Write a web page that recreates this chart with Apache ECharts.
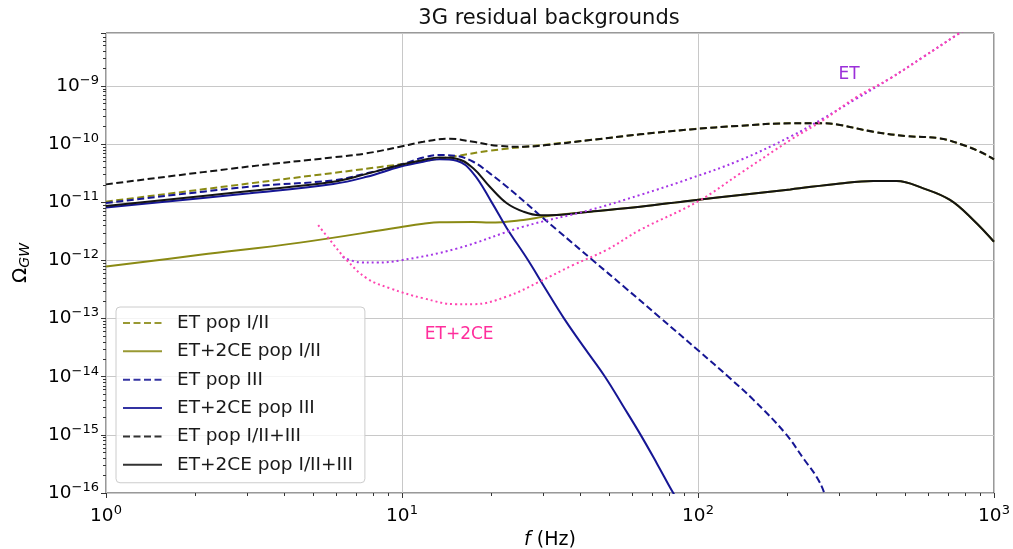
<!DOCTYPE html>
<html><head><meta charset="utf-8">
<script src="https://cdn.jsdelivr.net/npm/echarts@6/dist/echarts.min.js"></script>
<style>html,body{margin:0;padding:0;background:#fff}#c{width:1013px;height:549px}</style>
</head><body><div id="c"></div>
<script>
// ---- data (frequency in Hz, Omega_GW) ----
const fEtI   = [1, 3.06, 9.84, 15.3, 19.8, 29.2, 43.2, 63.7, 94, 139, 205, 265, 302, 391, 507, 658, 787, 897, 1000];
const omEtI  = [1.03e-11, 2.12e-11, 4.51e-11, 6.27e-11, 7.73e-11, 9.6e-11, 1.18e-10, 1.48e-10, 1.80e-10, 2.08e-10, 2.29e-10, 2.29e-10, 2.14e-10, 1.64e-10, 1.38e-10, 1.26e-10, 9.68e-11, 7.43e-11, 5.5e-11];

const fCeI   = [1, 2.08, 4.52, 9.84, 11.8, 13.4, 17.4, 19.8, 25.7, 30.0, 33.3, 43.2, 63.7, 94, 139, 205, 302, 391, 469, 577, 710, 851, 1000];
const omCeI  = [7.85e-13, 1.25e-12, 2.03e-12, 3.73e-12, 4.27e-12, 4.55e-12, 4.6e-12, 4.49e-12, 4.98e-12, 5.68e-12, 6.07e-12, 6.92e-12, 8.43e-12, 1.07e-11, 1.34e-11, 1.67e-11, 2.12e-11, 2.33e-11, 2.33e-11, 1.74e-11, 1.10e-11, 4.98e-12, 2.1e-12];

const fEt3   = [1, 3.06, 5.86, 7.59, 9.84, 11.8, 13.4, 15.3, 17.4, 19.8, 22.6, 26.1, 29.2, 33.3, 44.2, 56.0, 74.0, 100.5, 128, 154, 197, 229, 251, 267, 275];
const omEt3  = [9.77e-12, 1.86e-11, 2.4e-11, 3.16e-11, 4.39e-11, 5.9e-11, 6.52e-11, 6.27e-11, 5.0e-11, 3.16e-11, 1.86e-11, 1.0e-11, 6.0e-12, 3.4e-12, 1.0e-12, 3.6e-13, 1.07e-13, 2.8e-14, 9.5e-15, 4.0e-15, 1.07e-15, 3.7e-16, 1.93e-16, 1.0e-16, 5e-17];

const fCe3   = [1, 3.06, 5.86, 7.59, 9.84, 11.8, 13.4, 15.3, 17.4, 20.1, 22.6, 26.7, 30.6, 35.3, 41.4, 48.5, 55.7, 64.0, 72.7, 82.5, 88];
const omCe3  = [8.13e-12, 1.43e-11, 2.07e-11, 2.75e-11, 4.1e-11, 5.01e-11, 5.5e-11, 5.2e-11, 3.16e-11, 1.0e-11, 3.6e-12, 1.0e-12, 3.2e-13, 1.0e-13, 3.1e-14, 1.0e-14, 3.2e-15, 1.0e-15, 3.2e-16, 1.0e-16, 6e-17];

const fEtAll  = [1, 3.06, 5.86, 7.59, 9.84, 11.8, 14.5, 17.4, 21.4, 25.7, 30.8, 43.2, 63.7, 94, 139, 205, 265, 302, 391, 507, 658, 787, 897, 1000];
const omEtAll = [2.04e-11, 4.15e-11, 5.95e-11, 6.97e-11, 9.06e-11, 1.10e-10, 1.245e-10, 1.10e-10, 9.33e-11, 9.06e-11, 9.68e-11, 1.18e-10, 1.48e-10, 1.80e-10, 2.08e-10, 2.29e-10, 2.29e-10, 2.14e-10, 1.64e-10, 1.38e-10, 1.26e-10, 9.68e-11, 7.43e-11, 5.5e-11];

const fCeAll  = [1, 3.06, 5.86, 7.59, 9.84, 11.8, 13.4, 15.3, 17.4, 19.8, 22.6, 25.7, 29.2, 33.3, 43.2, 63.7, 94, 139, 205, 302, 391, 469, 577, 710, 851, 1000];
const omCeAll = [8.7e-12, 1.57e-11, 2.26e-11, 3.09e-11, 4.39e-11, 5.37e-11, 5.89e-11, 5.65e-11, 3.85e-11, 1.86e-11, 9.64e-12, 6.92e-12, 6.0e-12, 6.07e-12, 6.92e-12, 8.43e-12, 1.07e-11, 1.34e-11, 1.67e-11, 2.12e-11, 2.33e-11, 2.33e-11, 1.74e-11, 1.10e-11, 4.98e-12, 2.1e-12];

// sensitivity curves
const fSensEt  = [6.3, 7.21, 8.2, 9.84, 15.3, 25.7, 43.2, 63.7, 94, 139, 205, 265, 344, 446, 577, 748, 800];
const omSensEt = [1.15e-12, 9.3e-13, 9.2e-13, 1.0e-12, 1.6e-12, 3.82e-12, 7.4e-12, 1.34e-11, 2.57e-11, 5.35e-11, 1.35e-10, 2.79e-10, 6.14e-10, 1.36e-9, 3.18e-9, 7.6e-9, 9.5e-9];
const fSensCe  = [5.21, 5.71, 6.5, 7.6, 9.1, 11.8, 15.3, 17.4, 22.6, 29.2, 37.9, 49.1, 63.7, 100, 139, 205, 265, 344, 446, 577, 748, 800];
const omSensCe = [4.07e-12, 2.25e-12, 1.02e-12, 4.95e-13, 3.33e-13, 2.24e-13, 1.77e-13, 1.77e-13, 2.4e-13, 4.34e-13, 8.39e-13, 1.52e-12, 3.35e-12, 1.04e-11, 3.16e-11, 1.18e-10, 2.61e-10, 6.55e-10, 1.36e-9, 3.18e-9, 7.6e-9, 9.5e-9];

const seriesNames = ['ET pop I/II', 'ET+2CE pop I/II', 'ET pop III', 'ET+2CE pop III', 'ET pop I/II+III', 'ET+2CE pop I/II+III'];
const xRange = [1, 1000];
const yRange = [1e-16, 8.2e-9];
const minorMantissas = [2, 3, 4, 5, 6, 7, 8, 9];
const xDecades = [0, 1, 2];
const yDecades = [-16, -15, -14, -13, -12, -11, -10, -9];
const labelET = {text: 'ET', f: 324, om: 1.6e-9};
const labelCE = {text: 'ET+2CE', f: 15.6, om: 5.3e-14};

// ---- build ----
const FONT = 'DejaVu Sans';
const pairs = (xs, ys) => xs.map((x, i) => [x, ys[i]]);
const minorX = [];
xDecades.forEach(d => minorMantissas.forEach(m => minorX.push(m * Math.pow(10, d))));
const minorY = [];
yDecades.forEach(d => minorMantissas.forEach(m => { const v = m * Math.pow(10, d); if (v < yRange[1]) minorY.push(v); }));

function powLabel(v) {
  const l = Math.log10(v);
  const e = Math.round(l);
  if (Math.abs(l - e) > 0.01) return '';
  return '{b|10}{s|' + (e < 0 ? '\u2212' + (-e) : e) + '}';
}
const richTick = {
  b: {fontSize: 18.5, fontFamily: FONT, color: '#000'},
  s: {fontSize: 13, fontFamily: FONT, color: '#000', padding: [0, 0, 11, 0]}
};

// plot colours (curves appear darker in the plot than in the legend)
const OLIVE = 'rgb(138,138,20)';
const BLUE = 'rgb(22,22,148)';
const BLACK = 'rgb(20,20,20)';
const OLIVE_L = 'rgba(128,128,0,0.8)';
const BLUE_L = 'rgba(0,0,139,0.8)';
const BLACK_L = 'rgba(0,0,0,0.8)';
const legendColors = [OLIVE_L, OLIVE_L, BLUE_L, BLUE_L, BLACK_L, BLACK_L];
const legendDash = [[7, 3.5], 'solid', [7, 3.5], 'solid', [7, 3.5], 'solid'];
const VIOLET = '#a535e6';
const PINK = '#ff45b0';
const SMOOTH = 0.4;

function mk(name, xs, ys, color, type) {
  return {
    name, type: 'line', data: pairs(xs, ys), symbol: 'none', smooth: SMOOTH,
    lineStyle: {color, width: 2, type: type === 'dashed' ? [7, 3.5] : 'solid'},
    itemStyle: {color}, z: 3
  };
}

const series = [
  mk(seriesNames[0], fEtI, omEtI, OLIVE, 'dashed'),
  mk(seriesNames[1], fCeI, omCeI, OLIVE, 'solid'),
  mk(seriesNames[2], fEt3, omEt3, BLUE, 'dashed'),
  mk(seriesNames[3], fCe3, omCe3, BLUE, 'solid'),
  mk(seriesNames[4], fEtAll, omEtAll, BLACK, 'dashed'),
  mk(seriesNames[5], fCeAll, omCeAll, BLACK, 'solid'),
  {
    name: 'ET sens', type: 'line', data: pairs(fSensEt, omSensEt), symbol: 'none', smooth: SMOOTH,
    lineStyle: {color: VIOLET, width: 2, type: [2, 3]}, itemStyle: {color: VIOLET}, z: 3,
    markPoint: {symbol: 'circle', symbolSize: 1, itemStyle: {color: 'rgba(0,0,0,0)'},
      label: {show: true, position: 'inside', formatter: labelET.text, color: '#9b2fd9', fontSize: 17, fontFamily: FONT},
      data: [{coord: [labelET.f, labelET.om]}]}
  },
  {
    name: 'ET+2CE sens', type: 'line', data: pairs(fSensCe, omSensCe), symbol: 'none', smooth: SMOOTH,
    lineStyle: {color: PINK, width: 2, type: [2, 3]}, itemStyle: {color: PINK}, z: 3,
    markPoint: {symbol: 'circle', symbolSize: 1, itemStyle: {color: 'rgba(0,0,0,0)'},
      label: {show: true, position: 'inside', formatter: labelCE.text, color: '#ff2e9c', fontSize: 17, fontFamily: FONT},
      data: [{coord: [labelCE.f, labelCE.om]}]}
  }
];

const chart = echarts.init(document.getElementById('c'), null, {renderer: 'canvas'});
chart.setOption({
  animation: false,
  backgroundColor: '#fff',
  title: {
    text: '3G residual backgrounds', left: 549, top: 8, textAlign: 'center', padding: 0,
    textStyle: {fontSize: 21, fontWeight: 'normal', color: '#111', fontFamily: FONT}
  },
  grid: {left: 106, top: 33, right: 19, bottom: 56, show: true, borderColor: '#333', borderWidth: 1,
    backgroundColor: 'transparent', containLabel: false, outerBoundsMode: 'none'},
  legend: {
    data: seriesNames.map((n, i) => ({name: n, lineStyle: {color: legendColors[i], type: legendDash[i], width: 2}})),
    orient: 'vertical', left: 116, top: 307,
    itemWidth: 39, itemHeight: 20, itemGap: 8.35,
    padding: [6, 12, 8, 6],
    itemStyle: {opacity: 0},
    backgroundColor: 'rgba(255,255,255,0.8)', borderColor: '#cccccc', borderWidth: 1, borderRadius: 4,
    textStyle: {fontSize: 18.5, fontFamily: FONT, color: '#1a1a1a', lineHeight: 20, padding: [0, 0, 0, 10]},
    z: 10
  },
  xAxis: [{
    type: 'log', logBase: 10, min: xRange[0], max: xRange[1],
    name: '{i|f} (Hz)', nameLocation: 'middle', nameGap: 38,
    nameTextStyle: {fontSize: 19, fontFamily: FONT, color: '#000', rich: {i: {fontSize: 19, fontFamily: FONT, fontStyle: 'italic', color: '#000'}}},
    axisLine: {show: false},
    axisTick: {show: true, length: 5, lineStyle: {color: '#333', width: 1}},
    axisLabel: {formatter: powLabel, rich: richTick, margin: 11},
    splitLine: {show: true, lineStyle: {color: '#c8c8c8', width: 1}},
    minorTick: {show: false}
  }, {
    type: 'log', logBase: 10, min: xRange[0], max: xRange[1], position: 'bottom',
    axisLine: {show: false}, axisLabel: {show: false}, splitLine: {show: false},
    axisTick: {show: true, length: 3, customValues: minorX, lineStyle: {color: '#333', width: 1}}
  }],
  yAxis: [{
    type: 'log', logBase: 10, min: yRange[0], max: yRange[1],
    name: '{o|\u03A9}{g|GW}', nameLocation: 'middle', nameGap: 74, nameRotate: 90,
    nameTextStyle: {rich: {
      o: {fontSize: 20, fontFamily: FONT, color: '#000'},
      g: {fontSize: 14, fontFamily: FONT, fontStyle: 'italic', color: '#000', padding: [9, 0, 0, 0]}
    }},
    axisLine: {show: false},
    axisTick: {show: true, length: 5, lineStyle: {color: '#333', width: 1}},
    axisLabel: {formatter: powLabel, rich: richTick, margin: 7},
    splitLine: {show: true, lineStyle: {color: '#c8c8c8', width: 1}},
    minorTick: {show: false}
  }, {
    type: 'log', logBase: 10, min: yRange[0], max: yRange[1], position: 'left',
    axisLine: {show: false}, axisLabel: {show: false}, splitLine: {show: false},
    axisTick: {show: true, length: 3, customValues: minorY, lineStyle: {color: '#333', width: 1}}
  }],
  series
});
</script>
</body></html>
